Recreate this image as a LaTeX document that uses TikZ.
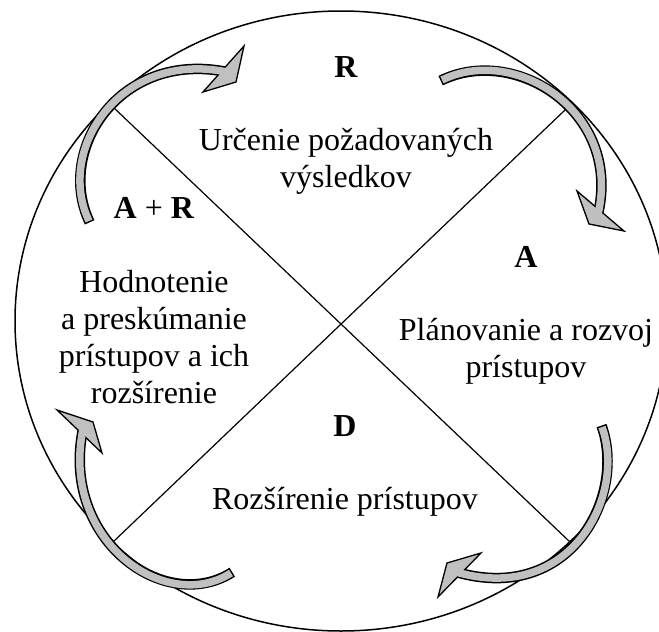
\documentclass[tikz,border=0pt]{standalone}
\usepackage{fontspec}
\setmainfont{Liberation Serif}
\usetikzlibrary{calc}
\definecolor{arrowgray}{RGB}{192,192,192}
\newcommand{\cyclearrow}[7]{%
  \draw[shaftout] #1 .. controls #2 and #3 .. #4;
  \draw[headtri] #5 -- #6 -- #7 -- cycle;
  \draw[shaftin] #1 .. controls #2 and #3 .. #4;
}
\begin{document}
\begin{tikzpicture}[x=1pt,y=-1pt,
  lbl/.style={anchor=base, inner sep=0pt, font=\fontsize{32}{37}\selectfont},
  divider/.style={line width=1.2pt, black},
  rim/.style={line width=1.5pt, black},
  shaftout/.style={line width=10.5pt, black, line cap=butt, shorten <=-1.5pt},
  shaftin/.style={line width=7.5pt, arrowgray, line cap=butt},
  headtri/.style={fill=arrowgray, draw=black, line width=1.3pt, line join=miter}
]
\useasboundingbox (0,0) rectangle (659,632);
\clip (0,0) rectangle (659,632);
\fill[white] (0,0) rectangle (659,632);

% outer ellipse
\coordinate (C) at (341,321);
\draw[rim] (C) ellipse [x radius=326pt, y radius=310pt];

% diagonals
\coordinate (l1a) at (113,107);
\coordinate (l1b) at (570,542);
\coordinate (l2a) at (565,110);
\coordinate (l2b) at (113,542);
\draw[divider] (l1a) -- (l1b);
\draw[divider] (l2a) -- (l2b);

% arrows
\coordinate (a1s) at (89,221);  \coordinate (a1e) at (227,72);
\coordinate (a1p) at (244,46);  \coordinate (a1t) at (236,82);  \coordinate (a1q) at (203,92);
\cyclearrow{(a1s)}{(55,150)}{(120,50)}{(a1e)}{(a1p)}{(a1t)}{(a1q)}

\coordinate (a2s) at (442,80);  \coordinate (a2e) at (598,214);
\coordinate (a2p) at (624,231); \coordinate (a2t) at (589,224); \coordinate (a2q) at (577,191);
\cyclearrow{(a2s)}{(515,44)}{(622,112)}{(a2e)}{(a2p)}{(a2t)}{(a2q)}

\coordinate (a3s) at (602,427); \coordinate (a3e) at (456,572);
\coordinate (a3p) at (438,597); \coordinate (a3t) at (447,563); \coordinate (a3q) at (481,553);
\cyclearrow{(a3s)}{(627,496)}{(570,605)}{(a3e)}{(a3p)}{(a3t)}{(a3q)}

\coordinate (a4s) at (231,573); \coordinate (a4e) at (83,429);
\coordinate (a4p) at (57,410);  \coordinate (a4t) at (93,422);  \coordinate (a4q) at (102,453);
\cyclearrow{(a4s)}{(165,615)}{(60,540)}{(a4e)}{(a4p)}{(a4t)}{(a4q)}

% texts
\node[lbl] (tR) at (346,77) {\textbf{R}};
\node[lbl] (tR1) at (346,150) {Určenie požadovaných};
\node[lbl] (tR2) at (346,187) {výsledkov};

\node[lbl] (tAR) at (154,218) {\textbf{A} + \textbf{R}};
\node[lbl] (tAR1) at (154,292) {Hodnotenie};
\node[lbl] (tAR2) at (154,329) {a preskúmanie};
\node[lbl] (tAR3) at (154,366) {prístupov a ich};
\node[lbl] (tAR4) at (154,403) {rozšírenie};

\node[lbl] (tA) at (526,267) {\textbf{A}};
\node[lbl] (tA1) at (526,340) {Plánovanie a rozvoj};
\node[lbl] (tA2) at (526,377) {prístupov};

\node[lbl] (tD) at (345,436) {\textbf{D}};
\node[lbl] (tD1) at (345,509) {Rozšírenie prístupov};
\end{tikzpicture}
\end{document}
